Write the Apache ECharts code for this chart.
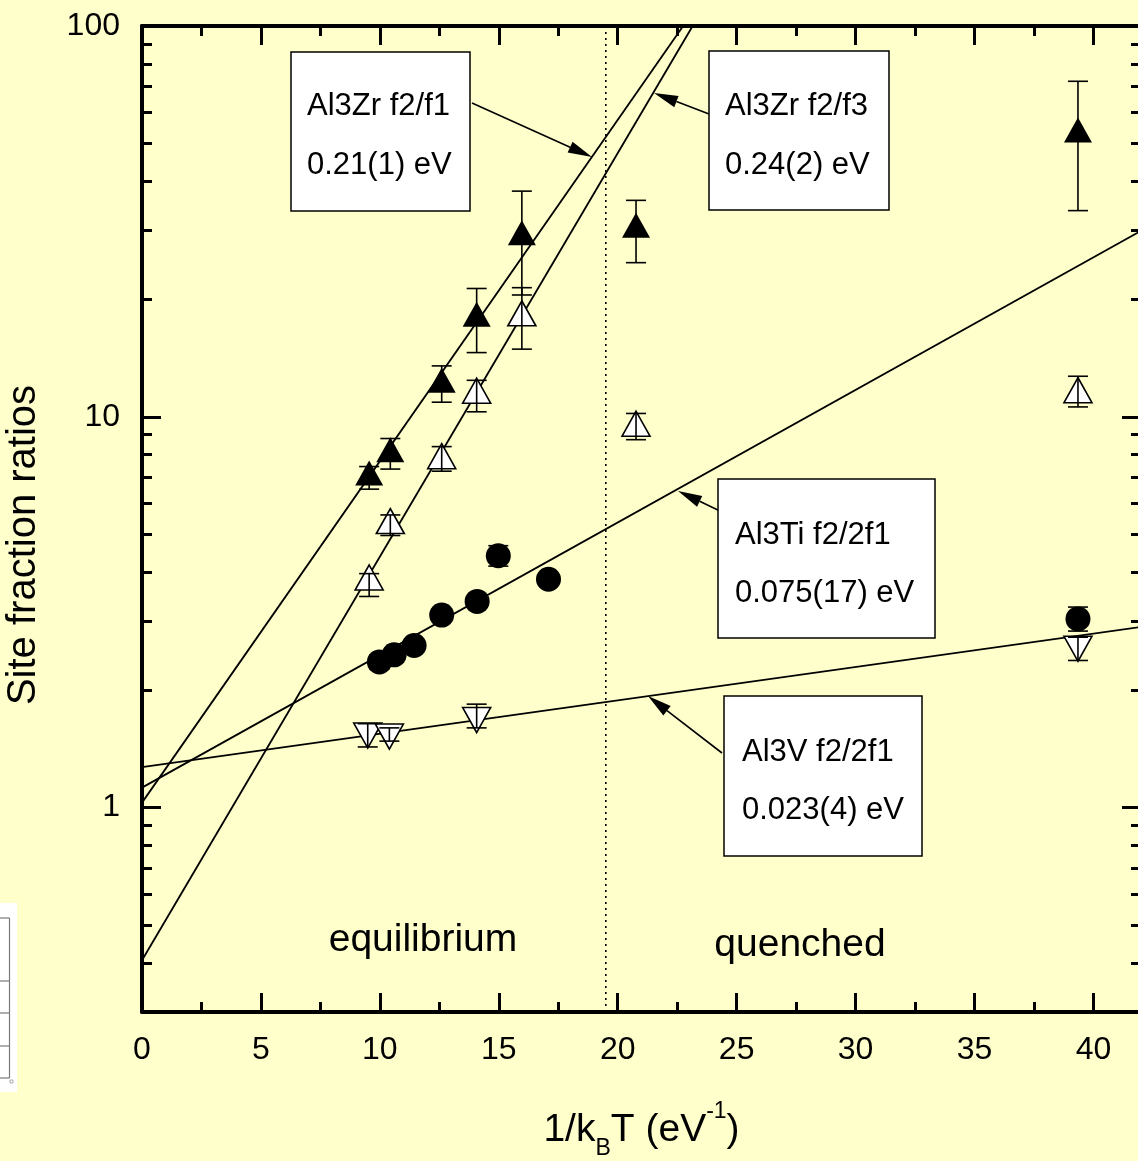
<!DOCTYPE html>
<html>
<head>
<meta charset="utf-8">
<script src="https://cdn.jsdelivr.net/npm/echarts@6/dist/echarts.min.js"></script>
<style>
  html, body { margin: 0; padding: 0; background: #ffffcc; }
  #main { width: 1138px; height: 1161px; }
</style>
</head>
<body>
<div id="main"></div>
<script>
// Al3Zr measurements, x = 1/kT (eV^-1)
const zrX = [9.55, 10.44, 12.6, 14.07, 15.97, 20.77, 39.35];
const zrF1 = [7.18, 8.24, 12.4, 18.3, 29.6, 30.9, 54.2];
const zrF1Lo = [6.53, 7.35, 10.9, 14.6, 20.5, 24.8, 33.7];
const zrF1Hi = [7.46, 8.8, 13.5, 21.3, 37.8, 35.8, 72.2];
const zrF3 = [3.88, 5.41, 7.93, 11.66, 18.4, 9.6, 11.7];
const zrF3Lo = [3.47, 4.97, 7.26, 10.3, 14.9, 8.74, 10.6];
const zrF3Hi = [3.97, 5.61, 8.39, 12.4, 21.4, 10.2, 12.7];

// Al3Ti
const tiX = [9.98, 10.6, 11.44, 12.6, 14.09, 14.98, 17.09, 39.35];
const tiF = [2.36, 2.46, 2.6, 3.11, 3.37, 4.41, 3.84, 3.04];
const tiLo = [2.26, 2.36, 2.5, 3.0, 3.25, 4.15, 3.72, 2.83];
const tiHi = [2.46, 2.56, 2.7, 3.22, 3.49, 4.68, 3.96, 3.26];

// Al3V
const vX = [9.49, 10.4, 14.07, 39.35];
const vF = [1.53, 1.52, 1.675, 2.55];
const vLo = [1.43, 1.48, 1.6, 2.38];
const vHi = [1.64, 1.6, 1.84, 2.73];

// Arrhenius fits, end points [x, ratio]
const fitZrF1 = [[0, 1.03], [22.75, 100]];
const fitZrF3 = [[0, 0.407], [23.15, 100]];
const fitTi = [[0, 1.125], [42, 29.9]];
const fitV = [[0, 1.27], [42, 2.9]];
const boundaryX = 19.5;

// Axis ticks
const xMajor = [0, 5, 10, 15, 20, 25, 30, 35, 40];
const xMinor = [2.5, 7.5, 12.5, 17.5, 22.5, 27.5, 32.5, 37.5];
const yMajor = [1, 10, 100];
const yMinor = [0.4, 0.5, 0.6, 0.7, 0.8, 0.9, 2, 3, 4, 5, 6, 7, 8, 9, 20, 30, 40, 50, 60, 70, 80, 90];

const FONT = '"Liberation Sans", Arial, sans-serif';

const pairs = (xs, ys) => xs.map((x, i) => [x, ys[i]]);

// Axis helpers: one visible axis with major ticks, a twin carrying the minor ticks
const xAxisOf = (position, ticks, len, opts) => ({
  type: 'value', position, min: 0, max: 42,
  axisLine: { show: !!opts.line, onZero: false, lineStyle: { color: '#000', width: 4 } },
  axisTick: { inside: true, length: len, customValues: ticks, lineStyle: { color: '#000', width: 3 } },
  axisLabel: opts.labels
    ? { show: true, customValues: ticks, margin: 22, color: '#000', fontSize: 32, fontFamily: FONT }
    : { show: false },
  splitLine: { show: false },
  ...(opts.extra || {})
});

const yAxisOf = (position, ticks, len, opts) => ({
  type: 'log', position, min: 0.3, max: 100, logBase: 10,
  axisLine: { show: !!opts.line, onZero: false, lineStyle: { color: '#000', width: 4 } },
  axisTick: { inside: true, length: len, customValues: ticks, lineStyle: { color: '#000', width: 3 } },
  axisLabel: opts.labels
    ? { show: true, customValues: ticks, margin: 22, color: '#000', fontSize: 32, fontFamily: FONT }
    : { show: false },
  splitLine: { show: false },
  minorTick: { show: false },
  ...(opts.extra || {})
});

const errorBars = (name, xs, lo, hi) => ({
  type: 'custom',
  name,
  z: 6,
  silent: true,
  data: xs.map((x, i) => [x, lo[i], hi[i]]),
  renderItem: (params, api) => {
    const top = api.coord([api.value(0), api.value(2)]);
    const bot = api.coord([api.value(0), api.value(1)]);
    const w = 10;
    const style = { stroke: '#000', lineWidth: 1.6 };
    return {
      type: 'group',
      children: [
        { type: 'line', shape: { x1: top[0], y1: top[1], x2: bot[0], y2: bot[1] }, style },
        { type: 'line', shape: { x1: top[0] - w, y1: top[1], x2: top[0] + w, y2: top[1] }, style },
        { type: 'line', shape: { x1: bot[0] - w, y1: bot[1], x2: bot[0] + w, y2: bot[1] }, style }
      ]
    };
  }
});

const points = (name, xs, ys, symbol, size, filled, rotate) => ({
  type: 'scatter',
  name,
  z: 5,
  data: pairs(xs, ys),
  symbol,
  symbolSize: size,
  symbolRotate: rotate || 0,
  itemStyle: filled
    ? { color: '#000', opacity: 1 }
    : { color: '#fff', borderColor: '#000', borderWidth: 1.6, opacity: 1 }
});

const fitLine = (name, pts, style) => ({
  type: 'line',
  name,
  z: 3,
  silent: true,
  data: pts,
  showSymbol: false,
  symbol: 'none',
  lineStyle: { color: '#000', width: 1.8, ...(style || {}) }
});

// Annotation boxes and arrows (pixel layout)
const arrow = (x1, y1, x2, y2) => {
  const a = Math.atan2(y2 - y1, x2 - x1);
  const len = 24, half = 6;
  const bx = x2 - len * Math.cos(a), by = y2 - len * Math.sin(a);
  const px = -Math.sin(a) * half, py = Math.cos(a) * half;
  return [
    { type: 'line', shape: { x1, y1, x2: bx, y2: by }, style: { stroke: '#000', lineWidth: 1.6 } },
    { type: 'polygon', shape: { points: [[x2, y2], [bx + px, by + py], [bx - px, by - py]] }, style: { fill: '#000' } }
  ];
};

const note = (x, y, w, h, lines, tx, ty1, ty2) => [
  { type: 'rect', shape: { x, y, width: w, height: h }, style: { fill: '#fff', stroke: '#000', lineWidth: 1.5 } },
  { type: 'text', style: { text: lines[0], x: tx, y: ty1, font: '31px ' + FONT, fill: '#000', align: 'left', verticalAlign: 'middle' } },
  { type: 'text', style: { text: lines[1], x: tx, y: ty2, font: '31px ' + FONT, fill: '#000', align: 'left', verticalAlign: 'middle' } }
];

const label = (text, x, y) => ({
  type: 'text',
  style: { text, x, y, font: '39px ' + FONT, fill: '#000', align: 'center', verticalAlign: 'middle' }
});

// Fragment of a neighbouring table at the left edge
const tableScrap = () => {
  const gray = { stroke: '#7a7a7a', lineWidth: 1.2 };
  const rows = [918, 981, 1013, 1046, 1078];
  return [
    { type: 'rect', shape: { x: 0, y: 903, width: 17, height: 189 }, style: { fill: '#fff' } },
    { type: 'line', shape: { x1: 9.5, y1: 918, x2: 9.5, y2: 1078 }, style: gray },
    ...rows.map((r) => ({ type: 'line', shape: { x1: 0, y1: r, x2: 9.5, y2: r }, style: gray })),
    { type: 'rect', shape: { x: 10, y: 1080, width: 3, height: 3 }, style: { fill: '#fff', stroke: '#999', lineWidth: 0.8 } }
  ];
};

const option = {
  backgroundColor: '#ffffcc',
  animation: false,
  textStyle: { fontFamily: FONT },
  grid: { left: 142, right: -3, top: 26, bottom: 149, containLabel: false, outerBoundsMode: 'none' },
  xAxis: [
    xAxisOf('bottom', xMajor, 19, {
      line: true, labels: true,
      extra: {
        name: '{m|1/k}{sub|B}{m|T (eV}{sup|-1}{m|)}',
        nameLocation: 'middle',
        nameGap: 88,
        nameTextStyle: {
          color: '#000',
          lineHeight: 60,
          rich: {
            m: { fontSize: 39, fontFamily: FONT, color: '#000', lineHeight: 60, verticalAlign: 'middle' },
            sub: { fontSize: 23, fontFamily: FONT, color: '#000', lineHeight: 22, verticalAlign: 'bottom' },
            sup: { fontSize: 23, fontFamily: FONT, color: '#000', lineHeight: 30, verticalAlign: 'top' }
          }
        }
      }
    }),
    xAxisOf('bottom', xMinor, 10, {}),
    xAxisOf('top', xMajor, 19, { line: true }),
    xAxisOf('top', xMinor, 10, {})
  ],
  yAxis: [
    yAxisOf('left', yMajor, 19, {
      line: true, labels: true,
      extra: {
        name: 'Site fraction ratios',
        nameLocation: 'middle',
        nameGap: 98,
        nameTextStyle: { color: '#000', fontSize: 40, fontFamily: FONT, padding: [0, 52, 0, 0] }
      }
    }),
    yAxisOf('left', yMinor, 10, {}),
    yAxisOf('right', yMajor, 19, { line: true }),
    yAxisOf('right', yMinor, 10, {})
  ],
  series: [
    fitLine('Al3Zr f2/f1 fit', fitZrF1),
    fitLine('Al3Zr f2/f3 fit', fitZrF3),
    fitLine('Al3Ti f2/2f1 fit', fitTi),
    fitLine('Al3V f2/2f1 fit', fitV),
    fitLine('equilibrium | quenched', [[boundaryX, 0.3], [boundaryX, 100]], { width: 1.6, type: [2, 4] }),
    points('Al3Zr f2/f1', zrX, zrF1, 'triangle', [28, 25], true),
    points('Al3Zr f2/f3', zrX, zrF3, 'triangle', [28, 25], false),
    points('Al3Ti f2/2f1', tiX, tiF, 'circle', 25, true),
    points('Al3V f2/2f1', vX, vF, 'triangle', [28, 25], false, 180),
    errorBars('Al3Zr f2/f1 err', zrX, zrF1Lo, zrF1Hi),
    errorBars('Al3Zr f2/f3 err', zrX, zrF3Lo, zrF3Hi),
    errorBars('Al3Ti f2/2f1 err', tiX, tiLo, tiHi),
    errorBars('Al3V f2/2f1 err', vX, vLo, vHi)
  ],
  graphic: [
    ...tableScrap(),
    ...arrow(472, 103, 592, 157),
    ...note(291, 52, 179, 159, ['Al3Zr f2/f1', '0.21(1) eV'], 307, 106, 165),
    ...arrow(709, 114, 654, 93),
    ...note(709, 51, 180, 159, ['Al3Zr f2/f3', '0.24(2) eV'], 725, 106, 165),
    ...arrow(722, 512, 678, 491),
    ...note(718, 479, 217, 159, ['Al3Ti f2/2f1', '0.075(17) eV'], 735, 535, 593),
    ...arrow(722, 753, 648, 696),
    ...note(724, 696, 198, 160, ['Al3V f2/2f1', '0.023(4) eV'], 742, 752, 810),
    label('equilibrium', 423, 940),
    label('quenched', 800, 945)
  ]
};

const chart = echarts.init(document.getElementById('main'), null, { renderer: 'canvas' });
chart.setOption(option);
</script>
</body>
</html>
